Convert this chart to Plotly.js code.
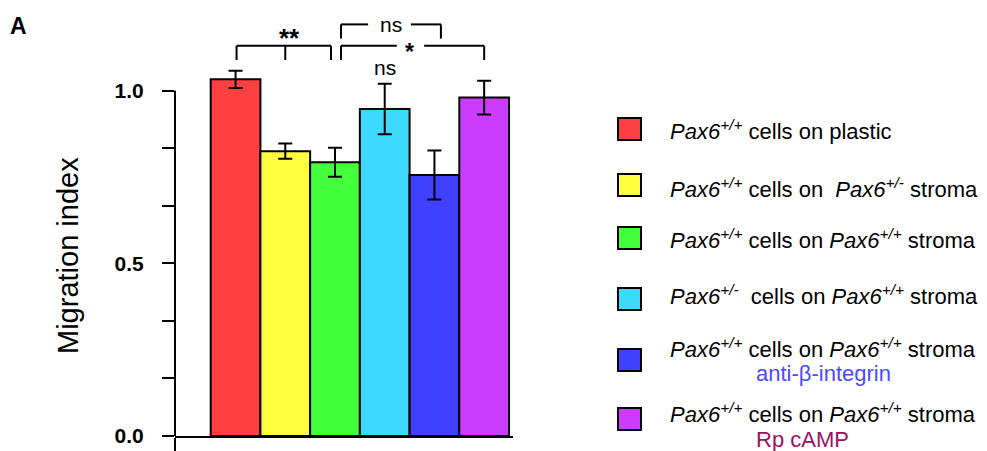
<!DOCTYPE html>
<html>
<head>
<meta charset="utf-8">
<script src="https://cdn.plot.ly/plotly-3.0.1.min.js"></script>
<style>html,body{margin:0;padding:0;background:#fff;}#chart{width:987px;height:451px;}</style>
</head>
<body>
<div id="chart"></div>
<script>
// ---- data ----
const groups = [0, 1, 2, 3, 4, 5];
const migration = [1.033, 0.825, 0.793, 0.947, 0.756, 0.980];
const sem = [0.025, 0.022, 0.042, 0.073, 0.071, 0.049];
const barColors = ['#ff4040', '#ffff40', '#44ff3c', '#3dd9ff', '#4040ff', '#cc3cff'];
const legendLabels = [
  '<i>Pax6<sup>+/+</sup></i> cells on plastic',
  '<i>Pax6<sup>+/+</sup></i> cells on  <i>Pax6<sup>+/-</sup></i> stroma',
  '<i>Pax6<sup>+/+</sup></i> cells on <i>Pax6<sup>+/+</sup></i> stroma',
  '<i>Pax6<sup>+/-</sup></i>  cells on <i>Pax6<sup>+/+</sup></i> stroma',
  '<i>Pax6<sup>+/+</sup></i> cells on <i>Pax6<sup>+/+</sup></i> stroma',
  '<i>Pax6<sup>+/+</sup></i> cells on <i>Pax6<sup>+/+</sup></i> stroma'
];
const legendSubLabels = ['', '', '', '', 'anti-β-integrin', 'Rp cAMP'];
const subLabelColors = ['', '', '', '', '#4a4aff', '#a01060'];
const yTickVals = [0, 1/6, 2/6, 0.5, 4/6, 5/6, 1.0];
const yTickText = ['0.0', '', '', '0.5', '', '', '1.0'];
const yTitle = 'Migration index';
const panelLabel = 'A';
// significance labels: ** (0 vs 1,2), ns (2 vs 4), * (2 vs 5), ns (3)
const sigLabels = ['**', 'ns', '*', 'ns'];

// ---- layout geometry ----
const W = 987, H = 451;
const M = {l: 175, r: 474, t: 10, b: 15};
const pw = W - M.l - M.r, ph = H - M.t - M.b;
const px2x = p => (p - M.l) / pw;          // pixel -> paper x
const py2y = p => (H - M.b - p) / ph;      // pixel -> paper y
const xRange = [-1.218, 5.58];
const yRange = [0, 1.2337];
const FONT = 'Liberation Sans, Arial, sans-serif';

const trace = {
  type: 'bar',
  x: groups,
  y: migration,
  width: 1,
  marker: {color: barColors, line: {color: '#000', width: 2}},
  error_y: {type: 'data', array: sem, visible: true, color: '#000', thickness: 2, width: 7},
  showlegend: false,
  hoverinfo: 'y'
};

const shapes = [];
const annotations = [];
const ln = (x0, y0, x1, y1, xref, yref) => shapes.push({type: 'line', xref: xref || 'x', yref: yref || 'y',
  x0, y0, x1, y1, line: {color: '#000', width: 2}});

// y axis line from 0 to 1.0
ln(0, 0, 0, 1.0, 'paper', 'y');

// bracket "**": group 0 vs 1 vs 2
const bY = 1.130, bDrop = 1.089, tY = 1.192, tDrop = 1.151;
ln(0.02, bY, 1.92, bY); ln(0.02, bY, 0.02, bDrop); ln(1.0, bY, 1.0, bDrop); ln(1.92, bY, 1.92, bDrop);
// bracket "ns" (top): group 2 vs 4
ln(2.12, tY, 2.666, tY); ln(3.525, tY, 4.13, tY); ln(2.12, tY, 2.12, tDrop); ln(4.13, tY, 4.13, tDrop);
// bracket "*": group 2 vs 5
ln(2.12, bY, 3.243, bY); ln(3.793, bY, 5.0, bY); ln(2.12, bY, 2.12, bDrop); ln(5.0, bY, 5.0, bDrop);

const sigPos = [[1.076, 1.152], [3.12, 1.193], [3.50, 1.113], [3.0, 1.066]];
const sigSize = [26, 21, 23, 21];
sigLabels.forEach((t, i) => annotations.push({xref: 'x', yref: 'y', x: sigPos[i][0], y: sigPos[i][1],
  text: t, showarrow: false, xanchor: 'center', yanchor: 'middle',
  font: {family: FONT, size: sigSize[i], color: '#000', weight: t === 'ns' ? 'normal' : 'bold'}}));

// panel label
annotations.push({xref: 'paper', yref: 'paper', x: px2x(8), y: py2y(26), text: panelLabel,
  showarrow: false, xanchor: 'left', yanchor: 'middle', font: {family: FONT, size: 23, color: '#000', weight: 'bold'}});

// y title
annotations.push({xref: 'paper', yref: 'paper', x: px2x(68), y: py2y(256), text: yTitle, textangle: -90,
  showarrow: false, xanchor: 'center', yanchor: 'middle', font: {family: FONT, size: 29, color: '#000'}});

// legend
const sqY = [129, 185, 238, 299, 360, 419];
const txY = [130, 188, 239, 295, 348, 413];
const subY = [0, 0, 0, 0, 373, 440];
legendLabels.forEach((lab, i) => {
  shapes.push({type: 'rect', xref: 'paper', yref: 'paper', x0: px2x(618), x1: px2x(641),
    y0: py2y(sqY[i] + 11), y1: py2y(sqY[i] - 11), fillcolor: barColors[i], line: {color: '#000', width: 2}});
  annotations.push({xref: 'paper', yref: 'paper', x: px2x(668), y: py2y(txY[i]), text: lab,
    showarrow: false, xanchor: 'left', yanchor: 'middle', font: {family: FONT, size: 22, color: '#000'}});
  if (legendSubLabels[i]) {
    annotations.push({xref: 'paper', yref: 'paper', x: px2x(754), y: py2y(subY[i]), text: legendSubLabels[i],
      showarrow: false, xanchor: 'left', yanchor: 'middle', font: {family: FONT, size: 22, color: subLabelColors[i]}});
  }
});

const layout = {
  width: W, height: H,
  margin: M,
  paper_bgcolor: '#fff', plot_bgcolor: '#fff',
  showlegend: false,
  xaxis: {range: xRange, showgrid: false, zeroline: false, showline: true, linecolor: '#000', linewidth: 2,
    tickmode: 'array', tickvals: [xRange[0] + 1e-6], ticktext: [''], ticks: 'outside', ticklen: 14,
    tickwidth: 2, tickcolor: '#000', fixedrange: true},
  yaxis: {range: yRange, showgrid: false, zeroline: false, showline: false,
    tickmode: 'array', tickvals: yTickVals, ticktext: yTickText, ticks: 'outside', ticklen: 12,
    tickwidth: 2, tickcolor: '#000', ticklabelstandoff: 14,
    tickfont: {family: FONT, size: 21, color: '#000', weight: 'bold'}, fixedrange: true},
  bargap: 0,
  shapes, annotations
};

Plotly.newPlot('chart', [trace], layout, {displayModeBar: false, staticPlot: true});
</script>
</body>
</html>
